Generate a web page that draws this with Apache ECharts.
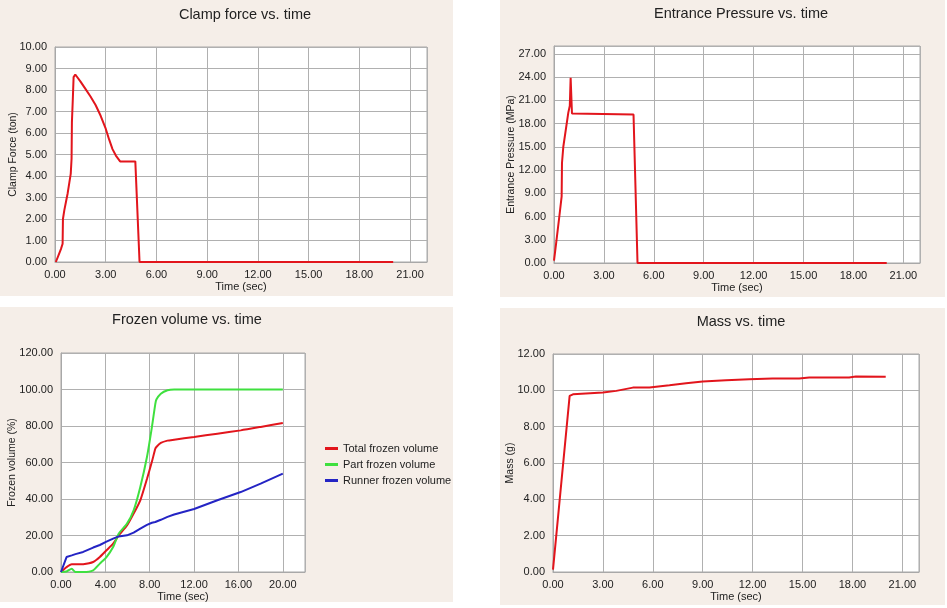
<!DOCTYPE html>
<html>
<head>
<meta charset="utf-8">
<script src="https://cdn.jsdelivr.net/npm/echarts@6/dist/echarts.min.js"></script>
<style>
html,body{margin:0;padding:0;background:#fff;}
#c{width:947px;height:608px;}
</style>
</head>
<body>
<div id="c"></div>
<script>
// ---- Data ----
const clampTime  = [0.05,0.2,0.35,0.45,0.47,0.55,0.65,0.75,0.85,0.93,0.98,1.0,1.05,1.1,1.2,1.5,1.8,2.1,2.4,2.7,3.0,3.2,3.4,3.6,3.85,4.3,4.75,5.0,20.0];
const clampForce = [0,0.3,0.6,0.85,2.0,2.4,2.8,3.2,3.7,4.1,4.8,6.5,7.5,8.6,8.72,8.4,8.05,7.7,7.3,6.8,6.2,5.7,5.25,4.95,4.68,4.68,4.68,0,0];

const pressTime  = [0.0,0.12,0.32,0.46,0.48,0.56,0.86,0.95,1.0,1.06,1.08,1.12,4.78,5.02,20.0];
const pressVal   = [0.3,2.4,6.0,8.6,12.9,15.0,19.4,20.3,23.9,23.9,19.3,19.15,19.15,0,0];

const frozenTime = [0,0.5,0.97,1.3,2.0,2.9,3.5,4.1,4.7,5.2,5.95,6.55,7.15,7.75,8.2,8.5,8.6,9.0,9.6,10.2,12.0,14.1,16.2,18.0,20.0];
const totalFrozen  = [0,2.7,4.2,4.2,4.3,5.5,8.2,11.9,15.5,20.0,25.5,32.0,39.3,51.0,60.5,67.5,68.5,70.7,72.0,72.5,74.0,75.8,77.6,79.5,81.7];
const partFrozen   = [0,0.3,1.8,0,0,0.9,4.6,8.2,13.7,21.0,26.5,33.8,46.6,63.0,79.5,92.0,94.5,97.7,99.6,100,100,100,100,100,100];
const runnerFrozen = [0,8.2,9.1,9.8,11.0,13.4,14.8,16.6,18.3,19.5,20.1,21.6,23.8,25.8,27.0,27.4,27.6,28.6,30.2,31.5,34.5,39.3,43.8,48.4,53.9];

const massTime = [0.0,1.0,1.2,3.0,3.8,4.8,5.8,7.0,8.0,9.0,10.4,11.8,13.2,14.8,15.4,17.8,18.2,20.0];
const massVal  = [0.13,9.69,9.78,9.88,9.97,10.15,10.15,10.28,10.39,10.48,10.56,10.61,10.65,10.65,10.71,10.71,10.76,10.75];

const titles = ['Clamp force vs. time','Entrance Pressure vs. time','Frozen volume vs. time','Mass vs. time'];
const yNames = ['Clamp Force (ton)','Entrance Pressure (MPa)','Frozen volume (%)','Mass (g)'];
const xName = 'Time (sec)';
const legendNames = ['Total frozen volume','Part frozen volume','Runner frozen volume'];

// ---- Build ----
const zip = (a,b)=>a.map((t,i)=>[t,b[i]]);
const FONT = 'Liberation Sans, Arial, sans-serif';
const BG = '#f5eee8';
const RED = '#e2151c', GREEN = '#3fe03f', BLUE = '#2424c4';

const grids = [
  {left:55, top:47, width:372, height:215},
  {left:554, top:46, width:366, height:217},
  {left:61, top:353, width:244, height:219},
  {left:553, top:354, width:366, height:218}
];
const xCfg = [{max:22,interval:3},{max:22,interval:3},{max:22,interval:4},{max:22,interval:3}];
const yCfg = [{max:10,interval:1,gap:36},{max:28,interval:3,gap:37},{max:120,interval:20,gap:43},{max:12,interval:2,gap:37}];
const titlePos = [[240,2],[736,1],[182,307],[736,309]];

function fmt(interval){
  return v => (Math.abs(v/interval - Math.round(v/interval))<1e-6) ? v.toFixed(2) : '';
}

const option = {
  animation:false,
  backgroundColor:'#fff',
  graphic:[
    {type:'rect',shape:{x:0,y:0,width:453,height:296},style:{fill:BG},z:-10},
    {type:'rect',shape:{x:500,y:0,width:445,height:297},style:{fill:BG},z:-10},
    {type:'rect',shape:{x:0,y:307,width:453,height:295},style:{fill:BG},z:-10},
    {type:'rect',shape:{x:500,y:308,width:445,height:297},style:{fill:BG},z:-10}
  ],
  title: titles.map((t,i)=>({
    text:t, left:titlePos[i][0], top:titlePos[i][1], textAlign:'center',
    textStyle:{fontFamily:FONT,fontSize:14.5,fontWeight:'normal',color:'#222'}
  })),
  grid: grids.map(g=>Object.assign({show:true,backgroundColor:'#fff',borderColor:'#a8a8a8',borderWidth:1},g)),
  xAxis: xCfg.map((c,i)=>({
    type:'value', gridIndex:i, min:0, max:c.max, interval:c.interval,
    name:xName, nameLocation:'middle', nameGap:19, nameMoveOverlap:false,
    nameTextStyle:{fontFamily:FONT,fontSize:11,color:'#222'},
    axisLine:{show:true,lineStyle:{color:'#a8a8a8'}},
    axisTick:{show:false},
    axisLabel:{fontFamily:FONT,fontSize:11,color:'#222',margin:7,formatter:fmt(c.interval)},
    splitLine:{show:true,lineStyle:{color:'#b0b0b0',width:1}}
  })),
  yAxis: yCfg.map((c,i)=>({
    type:'value', gridIndex:i, min:0, max:c.max, interval:c.interval,
    name:yNames[i], nameLocation:'middle', nameGap:c.gap, nameRotate:90, nameMoveOverlap:false,
    nameTextStyle:{fontFamily:FONT,fontSize:10.5,color:'#222'},
    axisLine:{show:true,lineStyle:{color:'#a8a8a8'}},
    axisTick:{show:false},
    axisLabel:{fontFamily:FONT,fontSize:11,color:'#222',margin:8,formatter:fmt(c.interval)},
    splitLine:{show:true,lineStyle:{color:'#b0b0b0',width:1}}
  })),
  legend:{
    orient:'vertical', left:320, top:438, itemWidth:13, itemHeight:3, itemGap:5,
    icon:'rect', data:legendNames,
    textStyle:{fontFamily:FONT,fontSize:11,color:'#222'}
  },
  series:[
    {type:'line',xAxisIndex:0,yAxisIndex:0,data:zip(clampTime,clampForce),showSymbol:false,lineStyle:{color:RED,width:2},itemStyle:{color:RED}},
    {type:'line',xAxisIndex:1,yAxisIndex:1,data:zip(pressTime,pressVal),showSymbol:false,lineStyle:{color:RED,width:2},itemStyle:{color:RED}},
    {type:'line',name:legendNames[0],xAxisIndex:2,yAxisIndex:2,data:zip(frozenTime,totalFrozen),showSymbol:false,smooth:0.2,lineStyle:{color:RED,width:2},itemStyle:{color:RED}},
    {type:'line',name:legendNames[1],xAxisIndex:2,yAxisIndex:2,data:zip(frozenTime,partFrozen),showSymbol:false,smooth:0.2,lineStyle:{color:GREEN,width:2},itemStyle:{color:GREEN}},
    {type:'line',name:legendNames[2],xAxisIndex:2,yAxisIndex:2,data:zip(frozenTime,runnerFrozen),showSymbol:false,lineStyle:{color:BLUE,width:2},itemStyle:{color:BLUE}},
    {type:'line',xAxisIndex:3,yAxisIndex:3,data:zip(massTime,massVal),showSymbol:false,lineStyle:{color:RED,width:2},itemStyle:{color:RED}}
  ]
};
echarts.init(document.getElementById('c')).setOption(option);
</script>
</body>
</html>
